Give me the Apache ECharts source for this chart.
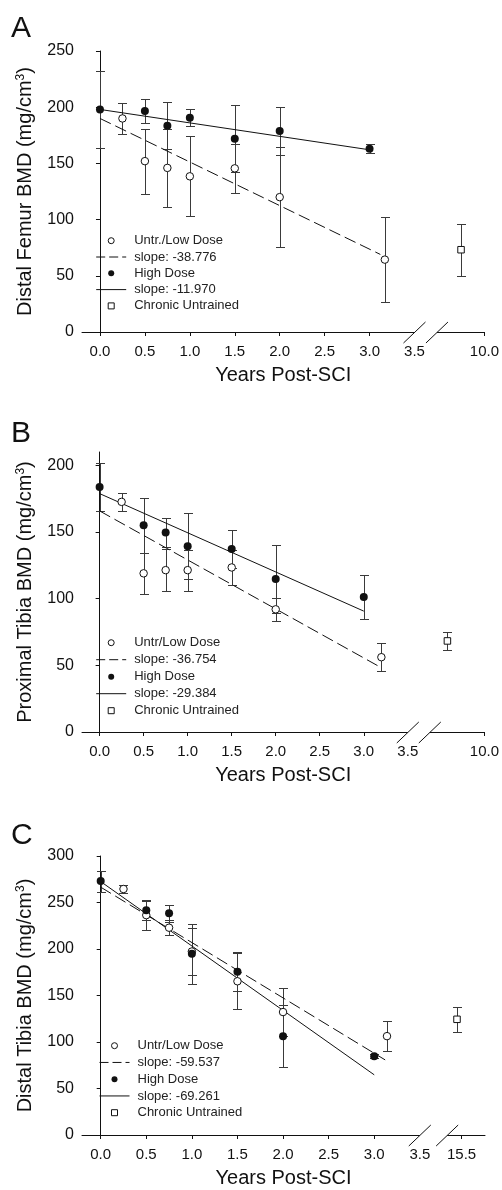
<!DOCTYPE html>
<html>
<head>
<meta charset="utf-8">
<script src="https://cdn.jsdelivr.net/npm/echarts@6/dist/echarts.min.js"></script>
<style>
html,body{margin:0;padding:0;background:#fff;}
#c{width:502px;height:1190px;}
</style>
</head>
<body>
<div id="c"></div>
<script>
// ---------- Panel A : Distal Femur ----------
const aLowX = [0.25, 0.5, 0.75, 1.0, 1.5, 2.0, 3.17];
const aLowY = [190, 152, 146, 138.5, 145.6, 120, 64.4];
const aLowErr = [14, 29, 34.4, 35.6, 21.6, 44.8, 38];
const aHighX = [0, 0.5, 0.75, 1.0, 1.5, 2.0, 3.0];
const aHighY = [198, 196.6, 183.6, 190.7, 172, 178.8, 163];
const aHighErr = [34, 11, 20.7, 7.5, 30, 21, 4];
const aChronicX = [9.74];
const aChronicY = [73.2];
const aChronicErr = [23];
const aFitLow = { slope: -38.776, intercept: 190, end: 3.12 };
const aFitHigh = { slope: -11.970, intercept: 198, end: 3.0 };
const aYTicks = [0, 50, 100, 150, 200, 250];
const aXLabels = [0, 0.5, 1.0, 1.5, 2.0, 2.5, 3.0, 3.5, 10.0];
const aXTicks = [0, 0.5, 1.0, 1.5, 2.0, 2.5, 3.0, 10.0];

// ---------- Panel B : Proximal Tibia ----------
const bLowX = [0.25, 0.5, 0.75, 1.0, 1.5, 2.0, 3.2];
const bLowY = [172.6, 119, 121.4, 121.4, 123.4, 92, 56.1];
const bLowErr = [6.6, 15.6, 16, 15.4, 13.2, 8.5, 10.3];
const bHighX = [0, 0.5, 0.75, 1.0, 1.5, 2.0, 3.0];
const bHighY = [183.8, 155.1, 149.6, 139.4, 137.2, 114.7, 101.2];
const bHighErr = [18.2, 20.5, 10.6, 25, 14, 25.4, 16.2];
const bChronicX = [9.58];
const bChronicY = [68.3];
const bChronicErr = [6.5];
const bFitLow = { slope: -36.754, intercept: 165.8, end: 3.2 };
const bFitHigh = { slope: -29.384, intercept: 178.8, end: 3.0 };
const bYTicks = [0, 50, 100, 150, 200];
const bXLabels = [0, 0.5, 1.0, 1.5, 2.0, 2.5, 3.0, 3.5, 10.0];
const bXTicks = [0, 0.5, 1.0, 1.5, 2.0, 2.5, 3.0, 10.0];

// ---------- Panel C : Distal Tibia ----------
const cLowX = [0.25, 0.5, 0.75, 1.0, 1.5, 2.0, 3.14];
const cLowY = [264.5, 236.4, 222.9, 197.3, 165.3, 132.2, 106.3];
const cLowErr = [4.5, 15.7, 7.8, 25.6, 30, 25.6, 16.3];
const cHighX = [0, 0.5, 0.75, 1.0, 1.5, 2.0, 3.0];
const cHighY = [273, 241.7, 238.5, 194.8, 175.6, 106.3, 84.6];
const cHighErr = [11.2, 10.7, 9, 32, 21, 33.3, 2];
const cChronicX = [15.45];
const cChronicY = [124.4];
const cChronicErr = [13.7];
const cFitLow = { slope: -59.537, intercept: 266.5, end: 3.12 };
const cFitHigh = { slope: -69.261, intercept: 272.5, end: 3.0 };
const cYTicks = [0, 50, 100, 150, 200, 250, 300];
const cXLabels = [0, 0.5, 1.0, 1.5, 2.0, 2.5, 3.0, 3.5, 15.5];
const cXTicks = [0, 0.5, 1.0, 1.5, 2.0, 2.5, 3.0, 15.5];

// ---------- shared ----------
const FONT = '"Liberation Sans", Arial, Helvetica, sans-serif';
const INK = '#111';
const ERR = '#3a3a3a';
const BREAK_AT = 3.5;
const SQUARE_ICON = 'path://M0,0H10V10H0Z';

// panel layout / axis definitions (years hidden by the axis break = off)
const panels = [
  { letter: 'A', ytitle: 'Distal Femur BMD (mg/cm{sup|3})', lowName: 'Untr./Low Dose',
    lowX: aLowX, lowY: aLowY, lowErr: aLowErr, highX: aHighX, highY: aHighY, highErr: aHighErr,
    chX: aChronicX, chY: aChronicY, chErr: aChronicErr, fitLow: aFitLow, fitHigh: aFitHigh,
    yTicks: aYTicks, yMax: 250, xLabels: aXLabels, xTicks: aXTicks, xMaxReal: 10.0, off: 5.722, gap: 0.25,
    grid: { left: 82, top: 51, width: 403, height: 281 }, xMin: -0.2,
    legend: { left: 95.7, top: 233.7, gap: 2.3 }, title: { left: 6, top: 9 } },
  { letter: 'B', ytitle: 'Proximal Tibia BMD (mg/cm{sup|3})', lowName: 'Untr/Low Dose',
    lowX: bLowX, lowY: bLowY, lowErr: bLowErr, highX: bHighX, highY: bHighY, highErr: bHighErr,
    chX: bChronicX, chY: bChronicY, chErr: bChronicErr, fitLow: bFitLow, fitHigh: bFitHigh,
    yTicks: bYTicks, yMax: 210, xLabels: bXLabels, xTicks: bXTicks, xMaxReal: 10.0, off: 5.63, gap: 0.25,
    grid: { left: 82, top: 452, width: 403, height: 280 }, xMin: -0.2,
    legend: { left: 95.7, top: 635.7, gap: 3 }, title: { left: 6, top: 414 } },
  { letter: 'C', ytitle: 'Distal Tibia BMD (mg/cm{sup|3})', lowName: 'Untr/Low Dose',
    lowX: cLowX, lowY: cLowY, lowErr: cLowErr, highX: cHighX, highY: cHighY, highErr: cHighErr,
    chX: cChronicX, chY: cChronicY, chErr: cChronicErr, fitLow: cFitLow, fitHigh: cFitHigh,
    yTicks: cYTicks, yMax: 300, xLabels: cXLabels, xTicks: cXTicks, xMaxReal: 15.757, off: 11.542, gap: 0.3,
    grid: { left: 82, top: 856, width: 403, height: 281 }, xMin: -0.205,
    legend: { left: 99, top: 1038.7, gap: 2.75 }, title: { left: 6, top: 816 } }
];

function toDisp(x, off) { return x <= BREAK_AT + 1e-9 ? x : x - off; }
function fromDisp(v, off) { return v <= BREAK_AT + 1e-6 ? v : v + off; }

function errSeries(i, xs, ys, es, off) {
  return {
    type: 'custom', xAxisIndex: i, yAxisIndex: i, silent: true, z: 1,
    encode: { x: 0, y: 1 },
    data: xs.map((x, k) => [toDisp(x, off), ys[k], es[k]]),
    renderItem(params, api) {
      const x = api.value(0), y = api.value(1), e = api.value(2);
      const t = api.coord([x, y + e]);
      const b = api.coord([x, y - e]);
      const cx = Math.round(t[0]) + 0.5;
      const ty = Math.round(t[1]) + 0.5, by = Math.round(b[1]) + 0.5;
      const hw = 4.5;
      const st = { stroke: ERR, lineWidth: 1 };
      return { type: 'group', children: [
        { type: 'line', shape: { x1: cx, y1: ty, x2: cx, y2: by }, style: st },
        { type: 'line', shape: { x1: cx - hw, y1: ty, x2: cx + hw, y2: ty }, style: st },
        { type: 'line', shape: { x1: cx - hw, y1: by, x2: cx + hw, y2: by }, style: st }
      ]};
    }
  };
}

function fitLine(f) { return [[0, f.intercept], [f.end, f.intercept + f.slope * f.end]]; }
function slopeName(f) { return 'slope: ' + f.slope.toFixed(3); }

const option = {
  animation: false,
  backgroundColor: '#fff',
  textStyle: { fontFamily: FONT, color: INK },
  title: [], grid: [], xAxis: [], yAxis: [], legend: [], series: []
};

panels.forEach((p, i) => {
  option.title.push({ text: p.letter, left: p.title.left, top: p.title.top,
    textStyle: { fontFamily: FONT, fontSize: 30, fontWeight: 'normal', color: INK } });
  option.grid.push(Object.assign({ containLabel: false }, p.grid));
  option.xAxis.push({
    type: 'value', gridIndex: i, min: p.xMin, max: toDisp(p.xMaxReal, p.off),
    axisLine: { show: true, onZero: false, lineStyle: { color: INK, width: 1 } },
    axisTick: { show: true, inside: false, length: 4, lineStyle: { color: INK },
      customValues: p.xTicks.map(v => toDisp(v, p.off)) },
    axisLabel: { show: true, fontSize: 15, color: INK, fontFamily: FONT, margin: 12,
      customValues: p.xLabels.map(v => toDisp(v, p.off)),
      formatter: v => fromDisp(v, p.off).toFixed(1) },
    splitLine: { show: false },
    name: 'Years Post-SCI', nameLocation: 'middle', nameGap: 32,
    nameTextStyle: { fontSize: 20, color: INK, fontFamily: FONT, lineHeight: 22 }
  });
  option.yAxis.push({
    type: 'value', gridIndex: i, min: 0, max: p.yMax,
    axisLine: { show: true, lineStyle: { color: INK, width: 1 } },
    axisTick: { show: true, inside: false, length: 4, lineStyle: { color: INK }, customValues: p.yTicks },
    axisLabel: { show: true, fontSize: 16, color: INK, fontFamily: FONT, margin: 8, customValues: p.yTicks },
    splitLine: { show: false },
    name: p.ytitle, nameLocation: 'middle', nameGap: 45, nameRotate: 90,
    nameTextStyle: { fontSize: 20, color: INK, fontFamily: FONT, lineHeight: 22,
      rich: { sup: { fontSize: 12, lineHeight: 12, verticalAlign: 'top', color: INK, fontFamily: FONT } } }
  });

  const lowName = p.lowName, dashName = slopeName(p.fitLow), solidName = slopeName(p.fitHigh);
  option.legend.push({
    orient: 'vertical', left: p.legend.left, top: p.legend.top, itemGap: p.legend.gap,
    itemWidth: 30, itemHeight: 6, selectedMode: false, padding: 0, symbolKeepAspect: true,
    textStyle: { fontSize: 13, color: '#222', fontFamily: FONT, lineHeight: 14, padding: [0, 0, 0, 3] },
    data: [
      { name: lowName, icon: 'circle', itemStyle: { color: '#fff', borderColor: INK, borderWidth: 1 } },
      { name: dashName, itemStyle: { color: 'rgba(0,0,0,0)', borderColor: 'rgba(0,0,0,0)', borderWidth: 0, opacity: 0 },
        lineStyle: { color: INK, width: 1, type: [9, 4] } },
      { name: 'High Dose', icon: 'circle', itemStyle: { color: INK, borderColor: INK, borderWidth: 0 } },
      { name: solidName, itemStyle: { color: 'rgba(0,0,0,0)', borderColor: 'rgba(0,0,0,0)', borderWidth: 0, opacity: 0 },
        lineStyle: { color: INK, width: 1, type: 'solid' } },
      { name: 'Chronic Untrained', icon: SQUARE_ICON, itemStyle: { color: '#fff', borderColor: INK, borderWidth: 1 } }
    ]
  });

  // error bars (low, high, chronic)
  option.series.push(errSeries(i, p.lowX, p.lowY, p.lowErr, p.off));
  option.series.push(errSeries(i, p.highX, p.highY, p.highErr, p.off));
  option.series.push(errSeries(i, p.chX, p.chY, p.chErr, p.off));
  // regression lines
  option.series.push({ type: 'line', name: dashName, xAxisIndex: i, yAxisIndex: i, z: 2,
    data: fitLine(p.fitLow), symbol: 'none', silent: true,
    lineStyle: { color: INK, width: 1, type: [12, 5] } });
  option.series.push({ type: 'line', name: solidName, xAxisIndex: i, yAxisIndex: i, z: 2,
    data: fitLine(p.fitHigh), symbol: 'none', silent: true,
    lineStyle: { color: INK, width: 1, type: 'solid' } });
  // points
  option.series.push({ type: 'scatter', name: lowName, xAxisIndex: i, yAxisIndex: i, z: 3,
    data: p.lowX.map((x, k) => [toDisp(x, p.off), p.lowY[k]]), symbol: 'circle', symbolSize: 7.5,
    itemStyle: { color: '#fff', borderColor: INK, borderWidth: 1, opacity: 1 } });
  option.series.push({ type: 'scatter', name: 'High Dose', xAxisIndex: i, yAxisIndex: i, z: 4,
    data: p.highX.map((x, k) => [toDisp(x, p.off), p.highY[k]]), symbol: 'circle', symbolSize: 8,
    itemStyle: { color: INK, borderWidth: 0, opacity: 1 } });
  option.series.push({ type: 'scatter', name: 'Chronic Untrained', xAxisIndex: i, yAxisIndex: i, z: 4,
    data: p.chX.map((x, k) => [toDisp(x, p.off), p.chY[k]]), symbol: 'rect', symbolSize: 6.5,
    itemStyle: { color: '#fff', borderColor: INK, borderWidth: 1, opacity: 1 } });
});

const chart = echarts.init(document.getElementById('c'), null, { renderer: 'canvas', width: 502, height: 1190 });
chart.setOption(option);

// axis-break marks: gap in the x axis line plus two slashes
const gfx = [];
panels.forEach((p, i) => {
  const a = chart.convertToPixel({ xAxisIndex: i, yAxisIndex: i }, [BREAK_AT, 0]);
  const b = chart.convertToPixel({ xAxisIndex: i, yAxisIndex: i }, [BREAK_AT + p.gap, 0]);
  const y = Math.round(a[1]) + 0.5;
  gfx.push({ type: 'rect', shape: { x: a[0], y: y - 2, width: b[0] - a[0], height: 4 },
    style: { fill: '#fff' }, z: 100, silent: true });
  [a[0], b[0]].forEach(cx => {
    gfx.push({ type: 'line', shape: { x1: cx - 11, y1: y + 10.5, x2: cx + 11, y2: y - 10.5 },
      style: { stroke: INK, lineWidth: 1 }, z: 101, silent: true });
  });
});
chart.setOption({ graphic: gfx });
</script>
</body>
</html>
